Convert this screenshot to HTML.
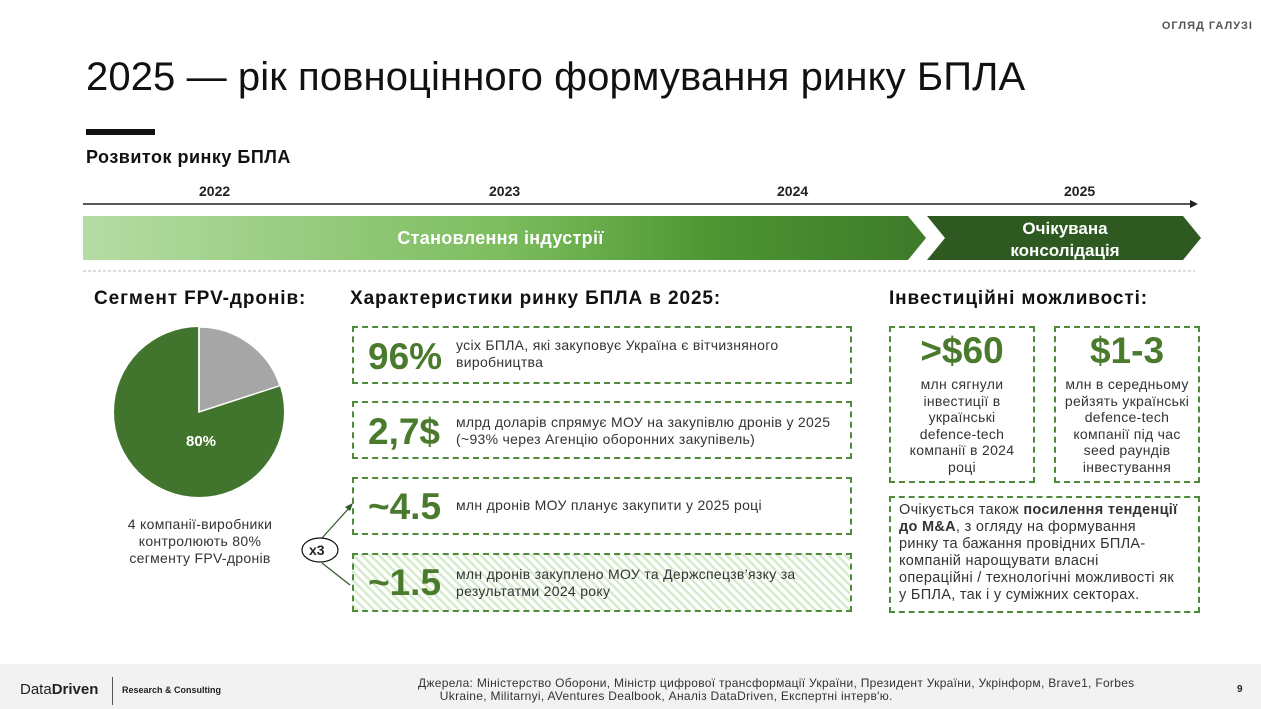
<!DOCTYPE html>
<html><head><meta charset="utf-8"><style>
body{margin:0;width:1261px;height:709px;position:relative;background:#fff;font-family:"Liberation Sans","DejaVu Sans",sans-serif;overflow:hidden;color:#222}
.a{position:absolute}
.box{position:absolute;border:2px dashed #4e8a3a;box-sizing:border-box}
.big{position:absolute;color:#4a7a2c;font-weight:bold}
.t{position:absolute;font-size:14px;line-height:17px;color:#333;letter-spacing:0.3px}
.c{text-align:center}
.h{position:absolute;font-size:19px;font-weight:bold;color:#111;letter-spacing:0.9px}
</style></head><body>
<div class="a" style="right:8px;top:20px;font-size:11px;font-weight:bold;letter-spacing:1px;color:#555">ОГЛЯД ГАЛУЗІ</div>
<div class="a" style="left:86px;top:55px;font-size:40px;color:#111;letter-spacing:0.1px">2025 — рік повноцінного формування ринку БПЛА</div>
<div class="a" style="left:86px;top:129px;width:69px;height:6px;background:#111"></div>
<div class="a" style="left:86px;top:147px;font-size:18px;font-weight:bold;color:#111;letter-spacing:0.5px">Розвиток ринку БПЛА</div>
<div class="a" style="left:199px;top:183px;font-size:14px;font-weight:bold">2022</div>
<div class="a" style="left:489px;top:183px;font-size:14px;font-weight:bold">2023</div>
<div class="a" style="left:777px;top:183px;font-size:14px;font-weight:bold">2024</div>
<div class="a" style="left:1064px;top:183px;font-size:14px;font-weight:bold">2025</div>
<svg class="a" style="left:0;top:0" width="1261" height="709">
<line x1="83" y1="204" x2="1192" y2="204" stroke="#222" stroke-width="1.5"/>
<polygon points="1198,204 1190,200 1190,208" fill="#222"/>
<defs><linearGradient id="g" x1="0" x2="1"><stop offset="0" stop-color="#b5dca4"/><stop offset="0.5" stop-color="#7cbd5e"/><stop offset="0.75" stop-color="#4d9532"/><stop offset="1" stop-color="#3d7a2a"/></linearGradient>
<pattern id="h" width="6" height="6" patternUnits="userSpaceOnUse" patternTransform="rotate(-45)"><rect width="6" height="6" fill="#fff"/><rect width="2.5" height="6" fill="#d6ebcc"/></pattern></defs>
<polygon points="83,216 908,216 926,238 908,260 83,260" fill="url(#g)"/>
<polygon points="927,216 1183,216 1201,238 1183,260 927,260 945,238" fill="#2e5a22"/>
<line x1="83" y1="271" x2="1195" y2="271" stroke="#bbb" stroke-dasharray="3,2"/>
<circle cx="199" cy="412" r="85" fill="#41752e"/>
<path d="M199,412 L199,327 A85,85 0 0,1 280,385.7 Z" fill="#a6a6a6" stroke="#fff" stroke-width="1.5"/>
<line x1="199" y1="412" x2="199" y2="327" stroke="#fff" stroke-width="1.5"/>
<rect x="352" y="554" width="498" height="57" fill="url(#h)"/>
<line x1="322" y1="538" x2="350" y2="507" stroke="#2e5a22" stroke-width="1.2"/>
<polygon points="353,503 345,507 350,511" fill="#2e5a22"/>
<line x1="322" y1="563" x2="350" y2="585" stroke="#2e5a22" stroke-width="1.2"/>
<ellipse cx="320" cy="550" rx="18" ry="12" fill="#fff" stroke="#111" stroke-width="1.2"/>
</svg>
<div class="a c" style="left:83px;top:228px;width:835px;font-size:18px;font-weight:bold;color:#fff;letter-spacing:0.3px">Становлення індустрії</div>
<div class="a c" style="left:945px;top:218px;width:240px;font-size:17px;line-height:22px;font-weight:bold;color:#fff">Очікувана<br>консолідація</div>
<div class="a" style="left:309px;top:542px;font-size:14px;font-weight:bold">x3</div>
<div class="h" style="left:94px;top:288px">Сегмент FPV-дронів:</div>
<div class="a" style="left:186px;top:433px;font-size:15px;font-weight:bold;color:#fff">80%</div>
<div class="t c" style="left:110px;top:516px;width:180px;line-height:17px">4 компанії-виробники контролюють 80% сегменту FPV-дронів</div>
<div class="h" style="left:350px;top:288px">Характеристики ринку БПЛА в 2025:</div>
<div class="box" style="left:352px;top:326px;width:500px;height:58px"></div>
<div class="big" style="left:368px;top:336px;font-size:37px">96%</div>
<div class="t" style="left:456px;top:337px;width:380px">усіх БПЛА, які закуповує Україна є вітчизняного виробництва</div>
<div class="box" style="left:352px;top:401px;width:500px;height:58px"></div>
<div class="big" style="left:368px;top:411px;font-size:37px">2,7$</div>
<div class="t" style="left:456px;top:414px;width:385px">млрд доларів спрямує МОУ на закупівлю дронів  у 2025 (~93% через Агенцію оборонних закупівель)</div>
<div class="box" style="left:352px;top:477px;width:500px;height:58px"></div>
<div class="big" style="left:368px;top:486px;font-size:37px">~4.5</div>
<div class="t" style="left:456px;top:497px">млн дронів МОУ планує закупити у 2025 році</div>
<div class="box" style="left:352px;top:553px;width:500px;height:59px"></div>
<div class="big" style="left:368px;top:562px;font-size:37px">~1.5</div>
<div class="t" style="left:456px;top:566px;width:385px">млн дронів закуплено МОУ та Держспецзв’язку за результатми 2024 року</div>
<div class="h" style="left:889px;top:288px">Інвестиційні можливості:</div>
<div class="box" style="left:889px;top:326px;width:146px;height:157px"></div>
<div class="big c" style="left:889px;top:330px;width:146px;font-size:37px">&gt;$60</div>
<div class="t c" style="left:889px;top:376px;width:146px;line-height:16.5px">млн сягнули<br>інвестиції в<br>українські<br>defence-tech<br>компанії в 2024<br>році</div>
<div class="box" style="left:1054px;top:326px;width:146px;height:157px"></div>
<div class="big c" style="left:1054px;top:330px;width:146px;font-size:37px">$1-3</div>
<div class="t c" style="left:1054px;top:376px;width:146px;line-height:16.5px">млн в середньому<br>рейзять українські<br>defence-tech<br>компанії під час<br>seed раундів<br>інвестування</div>
<div class="box" style="left:889px;top:496px;width:311px;height:117px"></div>
<div class="t" style="left:899px;top:502px;width:300px;font-size:14.5px;line-height:17px;letter-spacing:0.3px;white-space:nowrap">Очікується також <b>посилення тенденції</b><br><b>до M&amp;A</b>, з огляду на формування<br>ринку та бажання провідних БПЛА-<br>компаній нарощувати власні<br>операційні / технологічні можливості як<br>у БПЛА, так і у суміжних секторах.</div>
<div class="a" style="left:0;top:664px;width:1261px;height:45px;background:#f2f2f2"></div>
<div class="a" style="left:20px;top:681px;font-size:15px;color:#222">Data<b>Driven</b></div>
<div class="a" style="left:112px;top:677px;width:1px;height:28px;background:#555"></div>
<div class="a" style="left:122px;top:685px;font-size:9px;font-weight:bold;color:#222">Research &amp; Consulting</div>
<div class="a" style="left:418px;top:677px;width:790px;font-size:12px;line-height:13px;color:#333;letter-spacing:0.3px">Джерела: Міністерство Оборони, Міністр цифрової трансформації України, Президент України, Укрінформ, Brave1, Forbes<br>&nbsp;&nbsp;&nbsp;&nbsp;&nbsp;&nbsp;Ukraine, Militarnyi, AVentures Dealbook, Аналіз DataDriven, Експертні інтерв'ю.</div>
<div class="a" style="left:1237px;top:684px;font-size:10px;font-weight:bold">9</div>
</body></html>
